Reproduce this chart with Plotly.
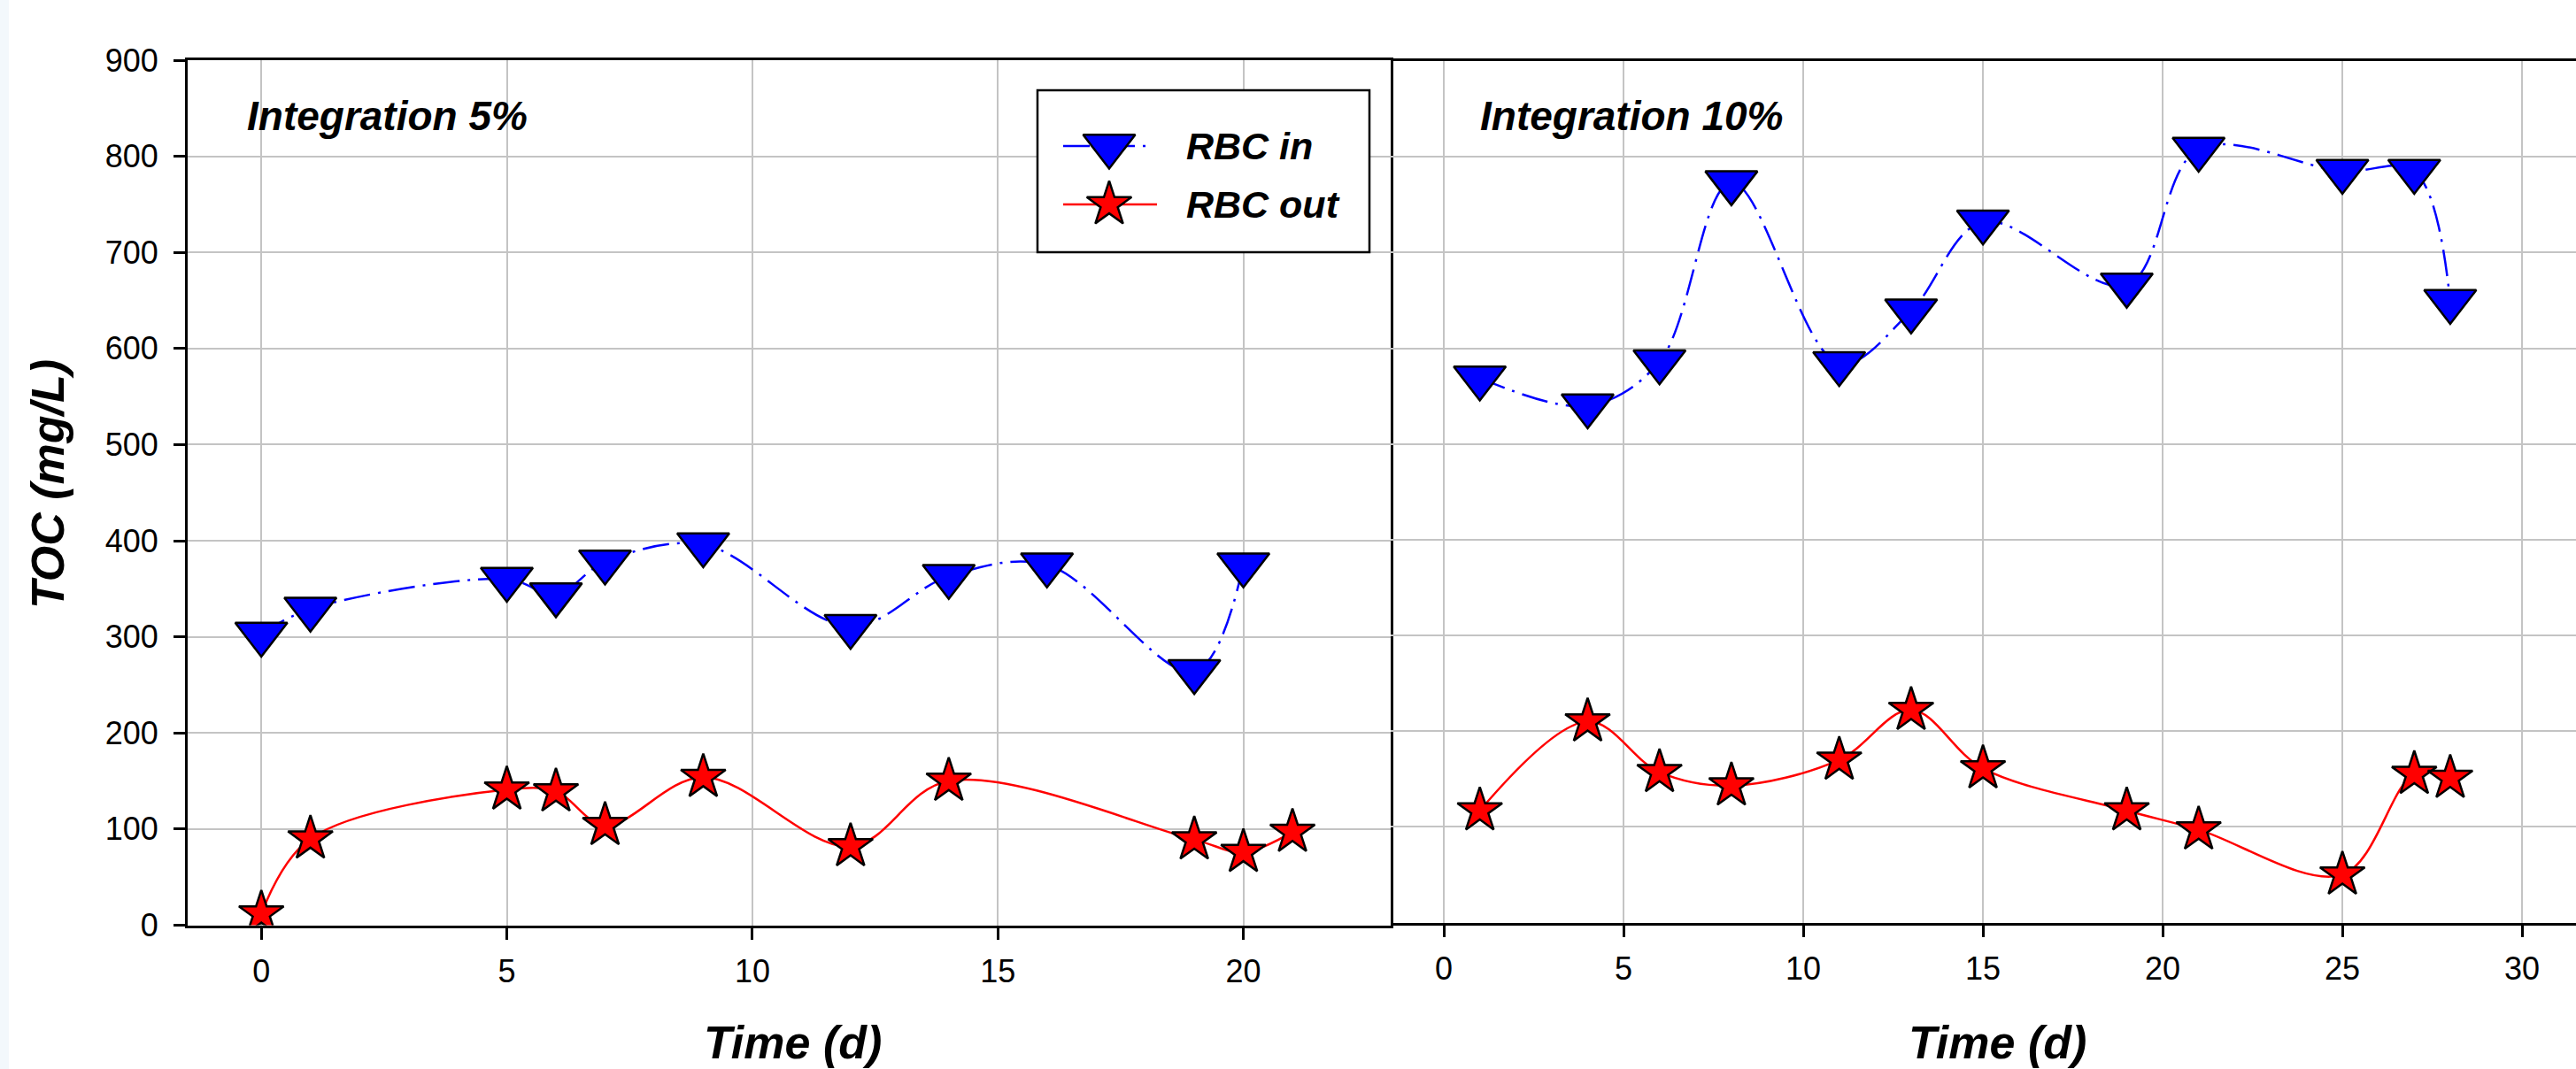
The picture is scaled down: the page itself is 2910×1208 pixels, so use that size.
import plotly.graph_objects as go

# ---------------- data ----------------
days_in_5 = [0, 1, 5, 6, 7, 9, 12, 14, 16, 19, 20]
rbc_in_5 = [303, 329, 360, 344, 378, 396, 311, 363, 375, 264, 375]
days_out_5 = [0, 1, 5, 6, 7, 9, 12, 14, 19, 20, 21]
rbc_out_5 = [12, 90, 141, 139, 104, 154, 82, 150, 89, 76, 97]

days_10 = [1, 4, 6, 8, 11, 13, 15, 19, 21, 25, 27, 28]
rbc_in_10 = [569, 540, 586, 773, 584, 639, 732, 666, 808, 785, 785, 649]
rbc_out_10 = [117, 210, 157, 143, 170, 222, 161, 117, 97, 50, 155, 151]

series_names = ["RBC in", "RBC out"]
panel_labels = ["Integration 5%", "Integration 10%"]
x_title = "Time (d)"
y_title = "TOC (mg/L)"

# ---------------- styling ----------------
W, H = 2910, 1208
FONT = "Liberation Sans, Arial, Helvetica, sans-serif"
BLUE = "#0000FF"
RED = "#FF0000"
GRID = "#C4C4C4"
TRI_SIZE = 51
STAR_SIZE = 38
BLUE_DASH = "30px,9px,3px,9px"


def px_x(p):
    return p / W


def px_y(p):
    return 1 - p / H


in_style = dict(
    mode="lines+markers",
    line=dict(color=BLUE, width=2.5, dash=BLUE_DASH, shape="spline", smoothing=1.0),
    marker=dict(symbol="triangle-down", size=TRI_SIZE, color=BLUE,
                line=dict(color="black", width=2.5)),
    showlegend=False,
)
out_style = dict(
    mode="lines+markers",
    line=dict(color=RED, width=2.5, shape="spline", smoothing=1.0),
    marker=dict(symbol="star", size=STAR_SIZE, color=RED,
                line=dict(color="black", width=2.5)),
    showlegend=False,
)

fig = go.Figure()
fig.add_trace(go.Scatter(x=days_in_5, y=rbc_in_5, name=series_names[0],
                         xaxis="x", yaxis="y", **in_style))
fig.add_trace(go.Scatter(x=days_out_5, y=rbc_out_5, name=series_names[1],
                         xaxis="x", yaxis="y", **out_style))
fig.add_trace(go.Scatter(x=days_10, y=rbc_in_10, name=series_names[0],
                         xaxis="x2", yaxis="y2", **in_style))
fig.add_trace(go.Scatter(x=days_10, y=rbc_out_10, name=series_names[1],
                         xaxis="x2", yaxis="y2", **out_style))

# ---------------- hand-made legend (keys on a hidden helper axis) ----------------
legend_box = dict(x0=1172, x1=1547, y0=102, y1=285)  # pixels
key_rows = [165, 231]           # pixel rows of the two legend entries
key_line_span = [(1201, 1298), (1201, 1307)]
key_marker_x = 1253
bw = legend_box["x1"] - legend_box["x0"]
bh = legend_box["y1"] - legend_box["y0"]


def kx(p):
    return (p - legend_box["x0"]) / bw


def ky(p):
    return (legend_box["y1"] - p) / bh


for i, st in enumerate([in_style, out_style]):
    ln = dict(st["line"])
    ln["shape"] = "linear"
    fig.add_trace(go.Scatter(
        x=[kx(key_line_span[i][0]), kx(key_line_span[i][1])],
        y=[ky(key_rows[i])] * 2, mode="lines", line=ln,
        xaxis="x3", yaxis="y3", showlegend=False, hoverinfo="skip"))
    fig.add_trace(go.Scatter(
        x=[kx(key_marker_x)], y=[ky(key_rows[i])], mode="markers",
        marker=st["marker"], xaxis="x3", yaxis="y3",
        showlegend=False, hoverinfo="skip"))

tickfont = dict(family=FONT, size=36, color="black")
common_x = dict(
    tick0=0, dtick=5, showgrid=True, gridcolor=GRID, gridwidth=2,
    showline=True, linecolor="black", linewidth=3, mirror=True,
    ticks="outside", ticklen=13, tickwidth=3, tickcolor="black",
    zeroline=False, tickfont=tickfont, ticklabelstandoff=5, automargin=False,
)
common_y = dict(
    range=[0, 900], tick0=0, dtick=100, showgrid=True, gridcolor=GRID,
    gridwidth=2, linecolor="black", linewidth=3,
    zeroline=False, tickfont=tickfont, automargin=False,
)

fig.update_layout(
    width=W, height=H, autosize=False,
    margin=dict(l=0, r=0, t=0, b=0, pad=0),
    paper_bgcolor="white", plot_bgcolor="white",
    font=dict(family=FONT, color="black"),
    xaxis=dict(domain=[px_x(212), px_x(1571)], range=[-1.5, 23],
               anchor="y", **common_x),
    yaxis=dict(domain=[px_y(1045.5), px_y(68)], anchor="x", mirror=True,
               showline=True,
               ticks="outside", ticklen=13, tickwidth=3, tickcolor="black",
               ticklabelstandoff=10, **common_y),
    xaxis2=dict(domain=[px_x(1571), 1.0], range=[-1.48, 31.5],
                anchor="y2", **common_x),
    yaxis2=dict(domain=[px_y(1042.5), px_y(69)], anchor="x2", mirror=False,
                showline=False, ticks="", showticklabels=False, **common_y),
    xaxis3=dict(domain=[px_x(legend_box["x0"]), px_x(legend_box["x1"])],
                range=[0, 1], visible=False, anchor="y3", fixedrange=True,
                automargin=False),
    yaxis3=dict(domain=[px_y(legend_box["y1"]), px_y(legend_box["y0"])],
                range=[0, 1], visible=False, anchor="x3", fixedrange=True,
                automargin=False),
    showlegend=False,
)

# legend border
fig.add_shape(type="rect", xref="paper", yref="paper",
              x0=px_x(legend_box["x0"]), x1=px_x(legend_box["x1"]),
              y0=px_y(legend_box["y1"]), y1=px_y(legend_box["y0"]),
              line=dict(color="black", width=2.5),
              fillcolor="rgba(0,0,0,0)", layer="above")
# faint strip at the far left edge of the picture
fig.add_shape(type="rect", xref="paper", yref="paper",
              x0=0, x1=px_x(10), y0=0, y1=1,
              line=dict(width=0), fillcolor="#F3F8FC", layer="below")

ann = []
for i, name in enumerate(series_names):
    ann.append(dict(text=f"<b><i>{name}</i></b>", x=px_x(1338), y=px_y(key_rows[i]),
                    xref="paper", yref="paper", xanchor="left", yanchor="middle",
                    showarrow=False, font=dict(family=FONT, size=43, color="black")))
for lbl, xp in zip(panel_labels, [277, 1670]):
    ann.append(dict(text=f"<b><i>{lbl}</i></b>", x=px_x(xp), y=px_y(131),
                    xref="paper", yref="paper", xanchor="left", yanchor="middle",
                    showarrow=False, font=dict(family=FONT, size=46, color="black")))
for xp in [895, 2256]:
    ann.append(dict(text=f"<b><i>{x_title}</i></b>", x=px_x(xp), y=px_y(1178),
                    xref="paper", yref="paper", xanchor="center", yanchor="middle",
                    showarrow=False, font=dict(family=FONT, size=52, color="black")))
ann.append(dict(text=f"<b><i>{y_title}</i></b>", x=px_x(54), y=px_y(547),
                xref="paper", yref="paper", xanchor="center", yanchor="middle",
                textangle=-90, showarrow=False,
                font=dict(family=FONT, size=52, color="black")))
fig.update_layout(annotations=ann)

fig.write_html(
    "out.html",
    config={"displayModeBar": False},
    post_script="document.body.style.margin='0px';"
                "document.body.style.overflow='hidden';",
)
